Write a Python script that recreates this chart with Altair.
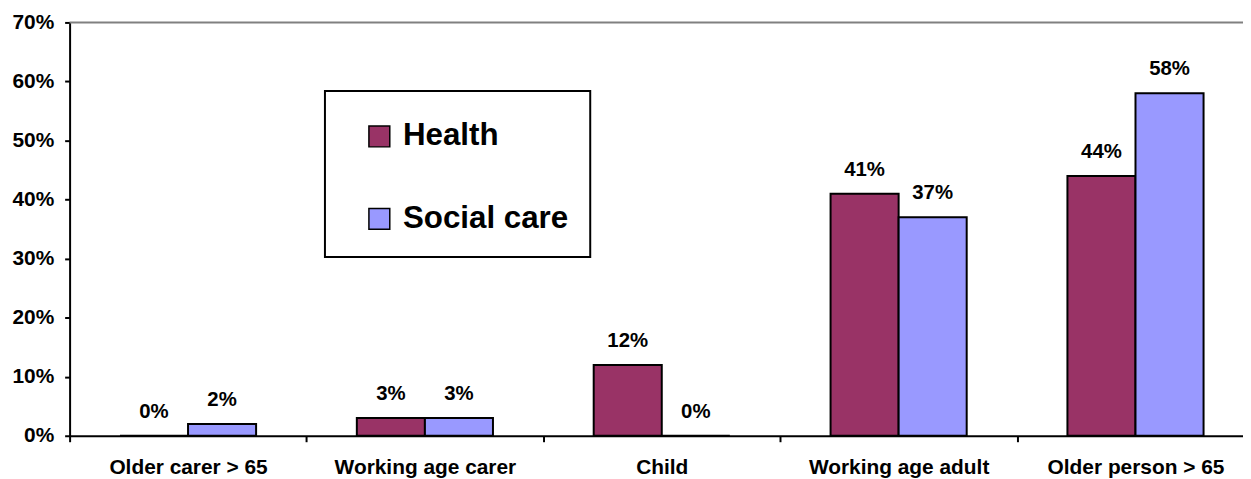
import altair as alt
import pandas as pd

categories = ["Older carer > 65", "Working age carer", "Child", "Working age adult", "Older person > 65"]
series = ["Health", "Social care"]
health = [0, 3, 12, 41, 44]
social_care = [2, 3, 0, 37, 58]
colors = ["#993366", "#9999FF"]
y_ticks = [0, 10, 20, 30, 40, 50, 60, 70]

rows = []
for c, h, s in zip(categories, health, social_care):
    rows.append({"cat": c, "series": "Health", "value": h})
    rows.append({"cat": c, "series": "Social care", "value": s})
df = pd.DataFrame(rows)

FONT = "Liberation Sans"

x_enc = alt.X(
    "cat:N",
    sort=categories,
    title=None,
    scale=alt.Scale(paddingInner=0, paddingOuter=0),
    axis=alt.Axis(
        labelAngle=0,
        labelFont=FONT,
        labelFontSize=21,
        labelFontWeight="bold",
        labelColor="black",
        labelPadding=15,
        labelLimit=400,
        tickBand="extent",
        tickSize=6,
        tickWidth=2,
        tickColor="black",
        domainColor="black",
        domainWidth=2,
    ),
)
xoff = alt.XOffset(
    "series:N",
    sort=series,
    scale=alt.Scale(paddingInner=0, paddingOuter=0.74),
)
y_enc = alt.Y(
    "value:Q",
    title=None,
    scale=alt.Scale(domain=[0, 70], nice=False, zero=True),
    axis=alt.Axis(
        values=y_ticks,
        labelExpr="datum.value + '%'",
        labelFont=FONT,
        labelFontSize=21,
        labelFontWeight="bold",
        labelColor="black",
        labelPadding=11,
        tickSize=5,
        tickWidth=2,
        tickColor="black",
        domainColor="black",
        domainWidth=2,
        grid=False,
    ),
)

base = alt.Chart(df)

bars = base.mark_bar(stroke="black", strokeWidth=2).encode(
    x=x_enc,
    xOffset=xoff,
    y=y_enc,
    color=alt.Color(
        "series:N",
        sort=series,
        scale=alt.Scale(domain=series, range=colors),
        legend=alt.Legend(
            title=" ",
            titleFontSize=8,
            titlePadding=0,
            orient="none",
            legendX=257,
            legendY=69,
            labelFont=FONT,
            labelFontSize=31.5,
            labelFontWeight="bold",
            labelColor="black",
            labelLimit=400,
            symbolType="square",
            symbolSize=441,
            symbolStrokeColor="black",
            symbolStrokeWidth=1.5,
            symbolOffset=17,
            labelOffset=8,
            padding=22,
            rowPadding=50,
            fillColor="white",
            strokeColor="black",
        ),
    ),
)

labels = base.mark_text(
    font=FONT, fontSize=20.5, fontWeight="bold", color="black",
    baseline="alphabetic", align="center", dy=-18,
).encode(
    x=alt.X("cat:N", sort=categories),
    xOffset=alt.XOffset("series:N", sort=series),
    y=alt.Y("value:Q"),
    text=alt.Text("label:N"),
).transform_calculate(label="datum.value + '%'")

top_line = alt.Chart(pd.DataFrame({"v": [70]})).mark_rule(color="#808080", strokeWidth=2).encode(
    y=alt.Y("v:Q")
)

chart = alt.layer(top_line, bars, labels).properties(
    width=1192,
    height=416,
    autosize=alt.AutoSizeParams(type="none"),
    padding={"left": 62, "top": 13, "right": -11, "bottom": 42},
).configure_view(stroke=None).configure_legend(strokeWidth=2)

chart.save("out.html", embed_options={"renderer": "svg", "actions": False})
